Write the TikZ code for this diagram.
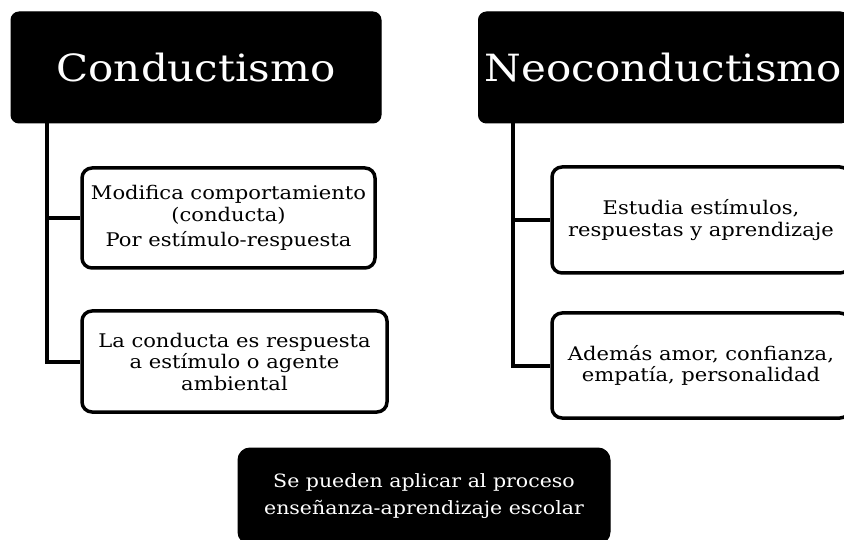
\documentclass[tikz,border=0pt]{standalone}
\usepackage{fontspec}
\setmainfont{DejaVu Serif}[FakeStretch=1.12]
\begin{document}
\begin{tikzpicture}[x=1pt,y=-1pt,
  header/.style={draw=black,fill=black,text=white,rounded corners=8pt,line width=1pt,
    minimum width=370pt,minimum height=111pt,inner sep=0pt,font=\fontsize{37.5}{44}\selectfont},
  child/.style={draw=black,fill=white,rounded corners=10pt,line width=3.5pt,
    inner sep=0pt,align=center,font=\fontsize{18.8}{21.5}\selectfont},
  footer/.style={draw=black,fill=black,text=white,rounded corners=12pt,line width=1pt,
    minimum width=372pt,minimum height=96pt,inner sep=0pt,align=center,font=\fontsize{18.3}{27}\selectfont},
  link/.style={line width=4pt}]
\useasboundingbox (0,0) rectangle (844,540);
\node[header] (h1) at (196,67.5) {Conductismo};
\node[header] (h2) at (663.5,67.5) {Neoconductismo};
\node[child,minimum width=293pt,minimum height=100pt] (b1) at (228.5,218)
  {Modifica comportamiento\\(conducta)\\[4pt]Por estímulo-respuesta};
\node[child,minimum width=305pt,minimum height=101pt] (b2) at (234.5,361.5)
  {La conducta es respuesta\\a estímulo o agente\\ambiental};
\node[child,minimum width=298pt,minimum height=106pt] (b3) at (701,220)
  {Estudia estímulos,\\respuestas y aprendizaje};
\node[child,minimum width=298pt,minimum height=105pt] (b4) at (701,365.5)
  {Además amor, confianza,\\empatía, personalidad};
\node[footer] (f) at (424,496)
  {Se pueden aplicar al proceso\\enseñanza-aprendizaje escolar};
\coordinate (t1) at (47,123);
\coordinate (t2) at (513,123);
\draw[link] (t1) |- (b1.west);
\draw[link] (t1) |- (b2.west);
\draw[link] (t2) |- (b3.west);
\draw[link] (t2) |- (b4.west);
\end{tikzpicture}
\end{document}
